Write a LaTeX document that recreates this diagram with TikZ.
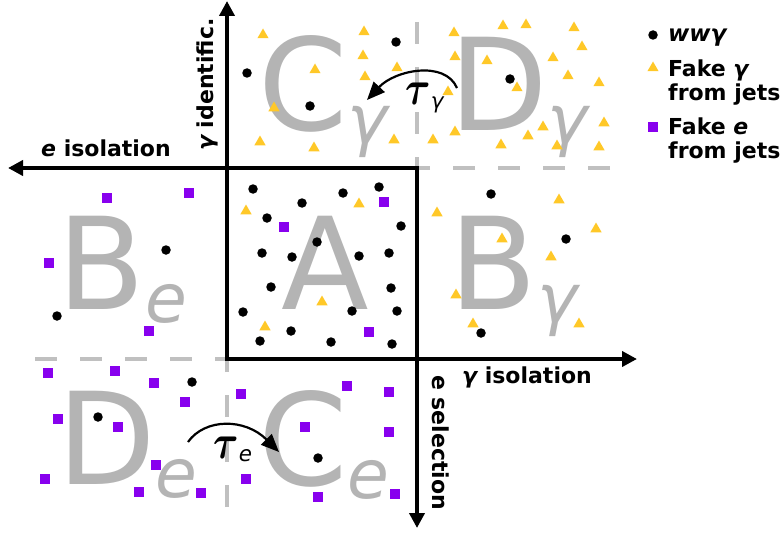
\documentclass[tikz,border=0pt]{standalone}
\usepackage{fontspec}
\usetikzlibrary{arrows.meta,shapes.geometric}
\newfontfamily\dejavu{DejaVu Sans}
\definecolor{regiongray}{RGB}{180,180,180}
\definecolor{cutgray}{RGB}{192,192,192}
\definecolor{fakegcol}{RGB}{255,200,40}
\definecolor{fakeecol}{RGB}{136,0,238}
\newcommand{\regsub}[1]{\raisebox{-13pt}{\fontsize{68}{68}\selectfont\itshape #1}}
\newcommand{\tausym}[1]{\scalebox{0.8}[1]{\boldmath$\tau$}\raisebox{-2pt}{\dejavu\itshape\fontsize{11}{11}\selectfont #1}}

\begin{document}
\begin{tikzpicture}[x=1pt,y=-1pt,
  region/.style={anchor=base west,inner sep=0pt,text=regiongray,font=\dejavu\fontsize{128}{128}\selectfont},
  axisline/.style={line width=4.2pt,-{Triangle[length=15pt,width=15pt]}},
  cutline/.style={line width=3.5pt,cutgray,dash pattern=on 22pt off 23pt},
  wwg/.style={circle,fill=black,inner sep=0pt,minimum size=9.5pt},
  fakeg/.style={regular polygon,regular polygon sides=3,fill=fakegcol,inner sep=0pt,minimum size=13pt},
  fakee/.style={rectangle,fill=fakeecol,inner sep=0pt,minimum size=10pt},
  lbl/.style={anchor=base west,inner sep=0pt,font=\dejavu\bfseries\fontsize{22}{24}\selectfont},
  legend/.style={anchor=base west,inner sep=0pt,align=left,font=\dejavu\bfseries\fontsize{22}{24}\selectfont},
  tau/.style={anchor=base west,inner sep=0pt,scale=1.95,font=\Huge},
  flow/.style={line width=2.2pt,-{Triangle[length=18pt,width=15pt]}}]
  \useasboundingbox (0,0) rectangle (783,532);

  \node[region] (a) at (281,309) {A};
  \node[region] (be) at (57,309) {B\regsub{e}};
  \node[region] (bg) at (449,309) {B\regsub{γ}};
  \node[region] (cg) at (258,130) {C\regsub{γ}};
  \node[region] (dg) at (449,130) {D\regsub{γ}};
  \node[region] (de) at (57,484) {D\regsub{e}};
  \node[region] (ce) at (258,485) {C\regsub{e}};

  \coordinate (tl) at (227,168);
  \coordinate (tr) at (417,168);
  \coordinate (bl) at (227,359);
  \coordinate (br) at (417,359);
  \coordinate (ytop) at (227,1);
  \coordinate (xleft) at (8,168);
  \coordinate (xright) at (637,359);
  \coordinate (ybottom) at (417,528);
  \coordinate (cuttop) at (417,22);
  \coordinate (cutright) at (610,168);
  \coordinate (cutleft) at (35,359);
  \coordinate (cutbottom) at (227,507);

  \draw[cutline] (cuttop) -- (tr);
  \draw[cutline] (cutright) -- (tr);
  \draw[cutline] (cutleft) -- (bl);
  \draw[cutline] (cutbottom) -- (bl);

  \foreach \p [count=\i] in {(247,73),(310,106),(396,42),(510,79),
      (253,189),(343,193),(379,187),(302,203),(267,218),(401,226),(317,242),
      (262,253),(292,257),(359,256),(389,253),(271,287),(391,288),(243,312),
      (352,311),(397,311),(291,331),(260,341),(331,342),(392,344),
      (166,250),(57,316),(491,194),(566,239),(481,333),
      (192,382),(98,417),(318,458)}
    \node[wwg] (w\i) at \p {};
  \foreach \p [count=\i] in {(263,35),(364,32),(363,56),(315,70),(365,77),
      (397,68),(274,108),(260,142),(314,148),(394,140),
      (503,26),(526,25),(574,28),(454,33),(582,47),(455,57),(487,61),
      (553,58),(568,76),(599,83),(448,92),(517,88),(543,127),(604,123),
      (455,132),(433,140),(528,136),(501,145),(557,146),(599,147),
      (246,211),(359,204),(322,302),(265,327),
      (437,213),(559,200),(596,229),(502,239),(551,257),(456,295),
      (473,324),(579,324)}
    \node[fakeg] (g\i) at \p {};
  \foreach \p [count=\i] in {(107,198),(189,193),(49,263),(149,331),
      (384,202),(284,227),(369,332),
      (48,373),(115,371),(154,383),(185,402),(58,419),(118,427),(156,465),
      (45,479),(139,492),(201,493),(241,394),(347,386),(389,392),
      (305,427),(389,432),(246,479),(318,497),(395,494)}
    \node[fakee] (e\i) at \p {};

  \draw[line width=4.2pt] (tl) rectangle (br);
  \draw[axisline] (tl) -- (ytop);
  \draw[axisline] (tl) -- (xleft);
  \draw[axisline] (br) -- (xright);
  \draw[axisline] (br) -- (ybottom);

  \node[lbl] (eiso) at (41,156) {{\itshape e} isolation};
  \node[lbl,rotate=90] (gid) at (213,151) {{\itshape γ} identific.};
  \node[lbl] (giso) at (462,383) {{\itshape γ} isolation};
  \node[lbl,rotate=-90] (esel) at (432,375) {e selection};

  \node[tau] (tg) at (405,105) {\tausym{γ}};
  \node[tau] (te) at (213,458) {\tausym{e}};
  \coordinate (tgs) at (457,88);
  \coordinate (tge) at (367,100);
  \coordinate (tes) at (188,442);
  \coordinate (tee) at (279,452);
  \draw[flow] (tgs) .. controls (445,60) and (395,70) .. (tge);
  \draw[flow] (tes) .. controls (205,418) and (245,418) .. (tee);

  \node[wwg] (lw) at (653,35) {};
  \node[fakeg] (lg) at (653,68) {};
  \node[fakee] (le) at (653,127) {};
  \node[legend,font=\dejavu\bfseries\fontsize{23}{24}\selectfont] (lwt) at (668,42) {\itshape wwγ};
  \node[legend] (lgt) at (668,100) {Fake {\itshape γ}\\from jets};
  \node[legend] (let) at (668,158) {Fake {\itshape e}\\from jets};
\end{tikzpicture}
\end{document}
